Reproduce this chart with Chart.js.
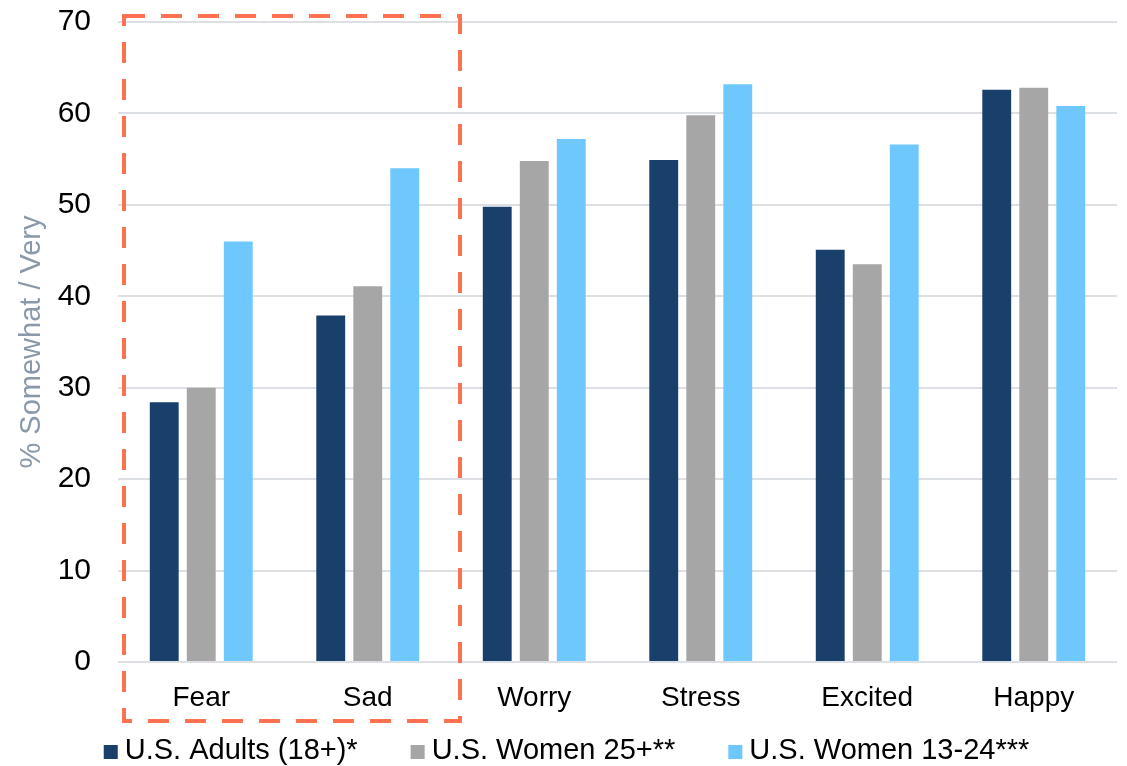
<!DOCTYPE html>
<html>
<head>
<meta charset="utf-8">
<script src="https://cdn.jsdelivr.net/npm/chart.js@4/dist/chart.umd.min.js"></script>
<style>
  html, body { margin: 0; padding: 0; background: #ffffff; }
  #wrap { width: 1127px; height: 766px; position: relative; }
</style>
</head>
<body>
<div id="wrap"><canvas id="chart" width="1127" height="766"></canvas></div>
<script>
// Emotion categories and survey shares (% somewhat / very)
const categories = ['Fear', 'Sad', 'Worry', 'Stress', 'Excited', 'Happy'];
const adults18 = [28.4, 37.9, 49.8, 54.9, 45.1, 62.6];
const women25 = [30.0, 41.1, 54.8, 59.8, 43.5, 62.8];
const women13to24 = [46.0, 54.0, 57.2, 63.2, 56.6, 60.8];
const seriesNames = ['U.S. Adults (18+)*', 'U.S. Women 25+**', 'U.S. Women 13-24***'];
const seriesColors = ['#193F6B', '#A6A6A6', '#6FC8FD'];
const yTicks = [0, 10, 20, 30, 40, 50, 60, 70];

const FONT = "'Liberation Sans', Arial, sans-serif";

// Dashed callout box around the first two categories (Fear, Sad)
const highlightBox = {
  id: 'highlightBox',
  afterDraw(chart) {
    const x = chart.scales.x, y = chart.scales.y;
    const step = x.getPixelForValue(1) - x.getPixelForValue(0);
    const left = x.getPixelForValue(0) - 0.464 * step;
    const right = x.getPixelForValue(1) + 0.554 * step;
    const top = y.getPixelForValue(70) - 6;
    const bottom = chart.chartArea.bottom + 59;
    const ctx = chart.ctx;
    ctx.save();
    ctx.strokeStyle = '#FF7150';
    ctx.lineWidth = 4;
    ctx.setLineDash([21, 16]);
    ctx.beginPath();
    ctx.moveTo(left, top);
    ctx.lineTo(right, top);
    ctx.lineTo(right, bottom);
    ctx.lineTo(left, bottom);
    ctx.closePath();
    ctx.stroke();
    ctx.restore();
  }
};

// Compact single-row legend under the axis: small square swatch, tight gap to text,
// wide gap between entries
const bottomLegend = {
  id: 'bottomLegend',
  afterDraw(chart) {
    const ctx = chart.ctx;
    const box = 14, boxGap = 7, itemGap = 53;
    const cy = chart.height - 15;
    ctx.save();
    ctx.font = '29px ' + FONT;
    ctx.textBaseline = 'middle';
    ctx.textAlign = 'left';
    const items = chart.data.datasets.map(ds => ({
      text: ds.label,
      color: ds.backgroundColor,
      w: ctx.measureText(ds.label).width
    }));
    const total = items.reduce((s, it) => s + box + boxGap + it.w, 0) + itemGap * (items.length - 1);
    let x = (chart.width - total) / 2 + 3;
    items.forEach(it => {
      ctx.fillStyle = it.color;
      ctx.fillRect(x, cy - box / 2 + 1, box, box);
      ctx.fillStyle = '#000000';
      ctx.fillText(it.text, x + box + boxGap, cy);
      x += box + boxGap + it.w + itemGap;
    });
    ctx.restore();
  }
};

new Chart(document.getElementById('chart'), {
  type: 'bar',
  data: {
    labels: categories,
    datasets: [
      { label: seriesNames[0], data: adults18, backgroundColor: seriesColors[0] },
      { label: seriesNames[1], data: women25, backgroundColor: seriesColors[1] },
      { label: seriesNames[2], data: women13to24, backgroundColor: seriesColors[2] }
    ]
  },
  options: {
    responsive: false,
    animation: false,
    events: [],
    categoryPercentage: 0.667,
    barPercentage: 0.78,
    layout: { padding: { left: 0, right: 10, top: 0, bottom: 50 } },
    scales: {
      x: {
        grid: { display: false },
        border: { display: false },
        ticks: { color: '#000000', font: { family: FONT, size: 28 }, padding: 11, maxRotation: 0 },
        afterFit(scale) { scale.height = 54; }
      },
      y: {
        min: 0,
        max: 70,
        afterBuildTicks(scale) { scale.ticks = yTicks.map(v => ({ value: v })); },
        grid: { color: '#DCDFE4', lineWidth: 2, drawTicks: false },
        border: { display: false },
        ticks: { color: '#000000', font: { family: FONT, size: 30 }, padding: 27 },
        title: {
          display: true,
          text: '% Somewhat / Very',
          color: '#8A99AA',
          font: { family: FONT, size: 29 },
          padding: { top: 15, bottom: 0 }
        },
        afterFit(scale) {
          scale.width = 118;
          scale.paddingTop = 22;
          scale.paddingBottom = 0;
        }
      }
    },
    plugins: {
      legend: { display: false },
      tooltip: { enabled: false }
    }
  },
  plugins: [highlightBox, bottomLegend]
});
</script>
</body>
</html>
